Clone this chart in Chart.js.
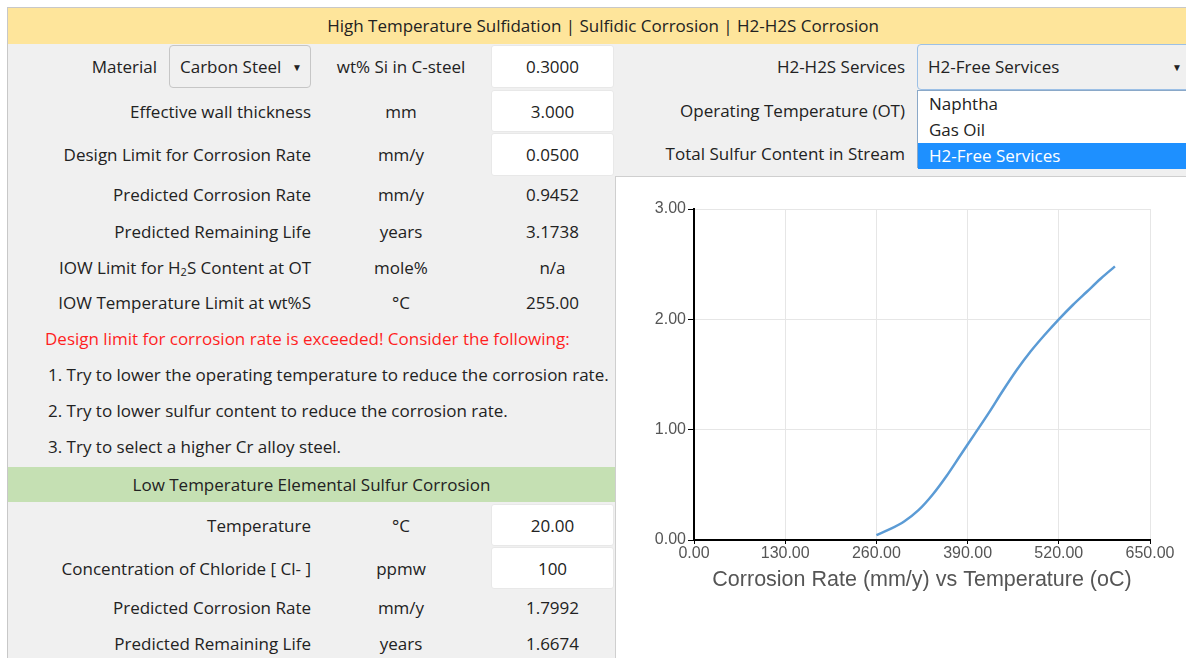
<!DOCTYPE html>
<html>
<head>
<meta charset="utf-8">
<title>Sulfidation Corrosion</title>
<script src="https://cdn.jsdelivr.net/npm/chart.js@4.4.0/dist/chart.umd.min.js"></script>
<style>
    body { margin: 0; width: 1186px; height: 658px; overflow: hidden; background: #fff;
           font-family: "Open Sans", "Noto Sans", sans-serif; font-size: 17px; color: #222; position: relative; }
    .abs { position: absolute; }
    .frame { left: 7px; top: 7px; width: 1210px; height: 670px; border-left: 1px solid #c8c8c8; border-top: 1px solid #c8c8c8; }
    .header { left: 8px; top: 8px; width: 1190px; height: 36px; line-height: 36px; background: #fee59b; text-align: center; }
    .gray { left: 8px; top: 44px; width: 1190px; height: 620px; background: #f0f0f0; }
    .green { left: 8px; top: 467px; width: 607px; height: 35px; line-height: 35px; background: #c5e0b3; text-align: center; }
    .row { left: 8px; width: 607px; }
    .row div { position: absolute; top: 0; height: 100%; display: flex; align-items: center; }
    .lbl { left: 0; width: 303px; justify-content: flex-end; }
    .unit { left: 313px; width: 160px; justify-content: center; }
    .val { left: 483px; width: 123px; justify-content: center; }
    .box { background: #fff; border: 1px solid #e8e8e8; border-radius: 3px; box-sizing: border-box; }
    .note { left: 45px; line-height: 22px; }
    .red { color: #ff1f1f; }
    .rlbl { left: 600px; width: 305px; text-align: right; line-height: 22px; }
    .sel { border: 1px solid #c6c6c6; border-radius: 4px; box-sizing: border-box; background: #f0f0f0; }
    .arrow { font-size: 10px; }
    .drop { left: 917px; top: 90px; width: 290px; height: 78px; background: #fff; border: 1px solid #8aa8c8; box-sizing: border-box; }
    .drop div { height: 26px; line-height: 25px; padding-left: 11px; }
    .hl { background: #1e90ff; color: #fff; }
    .panel { left: 615px; top: 176px; width: 590px; height: 500px; background: #fff; border: 1px solid #cfcfcf; }
    .chartBox { left: 616px; top: 177px; width: 570px; height: 481px; }
</style>
</head>
<body>
<div class="abs frame"></div>
<div class="abs gray"></div>
<div class="abs header">High Temperature Sulfidation | Sulfidic Corrosion | H2-H2S Corrosion</div>

<!-- left column -->
<div class="abs row" style="top:45px;height:43px">
    <div style="left:0;width:149px;justify-content:flex-end">Material</div>
    <div class="sel" style="left:161px;width:142px;padding-left:10px;">Carbon Steel<span class="arrow" style="position:absolute;right:8px">&#9660;</span></div>
    <div class="unit">wt% Si in C-steel</div>
    <div class="val box">0.3000</div>
</div>
<div class="abs row" style="top:90px;height:42px">
    <div class="lbl">Effective wall thickness</div><div class="unit">mm</div><div class="val box">3.000</div>
</div>
<div class="abs row" style="top:133px;height:43px">
    <div class="lbl">Design Limit for Corrosion Rate</div><div class="unit">mm/y</div><div class="val box">0.0500</div>
</div>
<div class="abs row" style="top:176px;height:36px">
    <div class="lbl">Predicted Corrosion Rate</div><div class="unit">mm/y</div><div class="val">0.9452</div>
</div>
<div class="abs row" style="top:213px;height:36px">
    <div class="lbl">Predicted Remaining Life</div><div class="unit">years</div><div class="val">3.1738</div>
</div>
<div class="abs row" style="top:249px;height:36px">
    <div class="lbl">IOW Limit for H<sub style="font-size:11px;position:relative;top:4px">2</sub>S Content at OT</div><div class="unit">mole%</div><div class="val">n/a</div>
</div>
<div class="abs row" style="top:284px;height:36px">
    <div class="lbl">IOW Temperature Limit at wt%S</div><div class="unit">°C</div><div class="val">255.00</div>
</div>
<div class="abs note red" style="top:328px">Design limit for corrosion rate is exceeded! Consider the following:</div>
<div class="abs note" style="top:364px;left:48px">1. Try to lower the operating temperature to reduce the corrosion rate.</div>
<div class="abs note" style="top:400px;left:48px">2. Try to lower sulfur content to reduce the corrosion rate.</div>
<div class="abs note" style="top:436px;left:48px">3. Try to select a higher Cr alloy steel.</div>

<div class="abs green">Low Temperature Elemental Sulfur Corrosion</div>
<div class="abs row" style="top:504px;height:42px">
    <div class="lbl">Temperature</div><div class="unit">°C</div><div class="val box">20.00</div>
</div>
<div class="abs row" style="top:547px;height:42px">
    <div class="lbl">Concentration of Chloride [ Cl- ]</div><div class="unit">ppmw</div><div class="val box">100</div>
</div>
<div class="abs row" style="top:589px;height:36px">
    <div class="lbl">Predicted Corrosion Rate</div><div class="unit">mm/y</div><div class="val">1.7992</div>
</div>
<div class="abs row" style="top:625px;height:36px">
    <div class="lbl">Predicted Remaining Life</div><div class="unit">years</div><div class="val">1.6674</div>
</div>

<!-- right top -->
<div class="abs rlbl" style="top:56px">H2-H2S Services</div>
<div class="abs rlbl" style="top:100px">Operating Temperature (OT)</div>
<div class="abs rlbl" style="top:143px">Total Sulfur Content in Stream</div>

<div class="abs panel"></div>
<div class="abs chartBox"><canvas id="corrosionChart"></canvas></div>

<div class="abs sel" style="left:917px;top:44px;width:290px;height:46px;line-height:44px;padding-left:10px;border-color:#9cc0e6;">H2-Free Services<span class="arrow abs" style="left:254px;top:0">&#9660;</span></div>
<div class="abs drop">
    <div>Naphtha</div>
    <div>Gas Oil</div>
    <div class="hl">H2-Free Services</div>
</div>

<script>
// temperature (oC) vs corrosion rate (mm/y)
const temps = [260, 280, 300, 320, 340, 360, 380, 400, 420, 440, 460, 480, 500, 520, 540, 560, 580, 600];
const rates = [0.045, 0.10, 0.17, 0.27, 0.41, 0.58, 0.77, 0.96, 1.15, 1.35, 1.54, 1.71, 1.86, 2.00, 2.13, 2.25, 2.37, 2.48];
const xTicks = [0, 130, 260, 390, 520, 650];
const yTicks = [0, 1, 2, 3];
const chartTitle = "Corrosion Rate (mm/y) vs Temperature (oC)";

let corrosionChart;

document.addEventListener("DOMContentLoaded", () => {
    drawChart();
});

function drawChart() {
    const ctx = document.getElementById("corrosionChart").getContext("2d");
    const points = temps.map((t, i) => ({ x: t, y: rates[i] }));

    corrosionChart = new Chart(ctx, {
        type: "line",
        data: {
            datasets: [{
                label: "Corrosion Rate",
                data: points,
                borderColor: "#5b9bd5",
                borderWidth: 2.5,
                pointRadius: 0,
                fill: false,
                cubicInterpolationMode: "monotone"
            }]
        },
        options: {
            responsive: true,
            maintainAspectRatio: false,
            animation: false,
            layout: { padding: { left: 0, top: 32, right: 36, bottom: 61 } },
            plugins: {
                legend: { display: false },
                tooltip: { enabled: false }
            },
            scales: {
                x: {
                    type: "linear",
                    min: xTicks[0],
                    max: xTicks[xTicks.length - 1],
                    afterBuildTicks: (axis) => { axis.ticks = xTicks.map(v => ({ value: v })); },
                    afterFit: (axis) => { axis.height = 57; },
                    border: { color: "#000", width: 2 },
                    grid: { color: "#e6e6e6", tickLength: 4, tickColor: "#000" },
                    title: {
                        display: true,
                        text: chartTitle,
                        color: "#555",
                        font: { family: "Arial, 'Liberation Sans'", size: 21.5 },
                        padding: { top: 4, bottom: 4 }
                    },
                    ticks: {
                        padding: 0,
                        maxRotation: 0,
                        color: "#555",
                        font: { family: "Arial, 'Liberation Sans'", size: 16 },
                        callback: (v) => Number(v).toFixed(2)
                    }
                },
                y: {
                    min: yTicks[0],
                    max: yTicks[yTicks.length - 1],
                    afterBuildTicks: (axis) => { axis.ticks = yTicks.map(v => ({ value: v })); },
                    afterFit: (axis) => { axis.width = 78; },
                    border: { color: "#000", width: 2 },
                    grid: { color: "#e6e6e6", tickLength: 6, tickColor: "#000" },
                    ticks: {
                        padding: 2,
                        color: "#555",
                        font: { family: "Arial, 'Liberation Sans'", size: 16 },
                        callback: (v) => Number(v).toFixed(2)
                    }
                }
            }
        }
    });
}
</script>
</body>
</html>
